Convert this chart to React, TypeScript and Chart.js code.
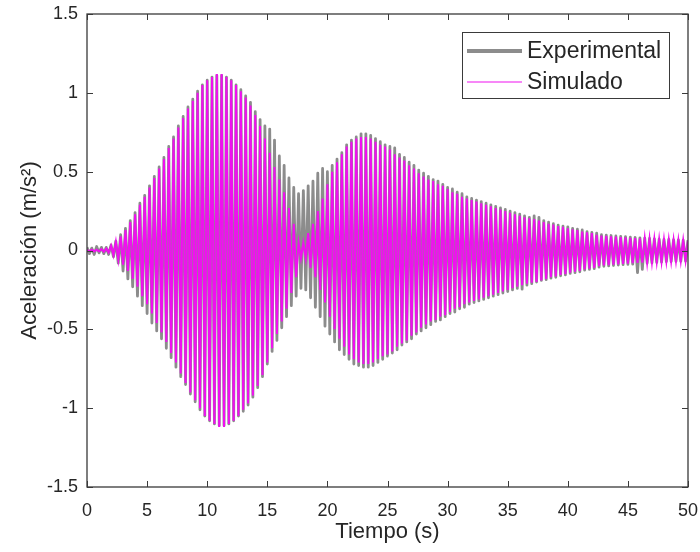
import React, { useEffect, useRef } from 'react';
import { Chart, registerables } from 'chart.js';

Chart.register(...registerables);

// ---------- data ----------
const seriesLabels = ['Experimental', 'Simulado'];
const xTickValues = [0, 5, 10, 15, 20, 25, 30, 35, 40, 45, 50];
const xTickLabels = ['0', '5', '10', '15', '20', '25', '30', '35', '40', '45', '50'];
const yTickValues = [-1.5, -1, -0.5, 0, 0.5, 1, 1.5];
const yTickLabels = ['-1.5', '-1', '-0.5', '0', '0.5', '1', '1.5'];
const xRange = [0, 50];
const yRange = [-1.5, 1.5];

// oscillation period (s) estimated from stripe spacing
const cyclePeriod = 0.4;

// simulated: peak amplitude of each cycle (symmetric)
const simAmp = [
  0.005, 0.005, 0.005, 0.008, 0.012, 0.03, 0.055, 0.09, 0.13, 0.18,
  0.23, 0.29, 0.34, 0.40, 0.46, 0.52, 0.58, 0.65, 0.71, 0.78,
  0.84, 0.90, 0.95, 1.00, 1.05, 1.08, 1.10, 1.12, 1.12, 1.10,
  1.08, 1.05, 1.01, 0.97, 0.92, 0.86, 0.79, 0.71, 0.62, 0.53,
  0.45, 0.37, 0.27, 0.17, 0.05, 0.05, 0.11, 0.17, 0.25, 0.33,
  0.42, 0.50, 0.56, 0.61, 0.66, 0.69, 0.71, 0.72, 0.72, 0.71,
  0.69, 0.67, 0.66, 0.64, 0.61, 0.59, 0.57, 0.54, 0.52, 0.49,
  0.47, 0.45, 0.44, 0.42, 0.41, 0.39, 0.37, 0.36, 0.34, 0.33,
  0.32, 0.31, 0.30, 0.29, 0.28, 0.27, 0.26, 0.25, 0.24, 0.23,
  0.22, 0.21, 0.205, 0.20, 0.19, 0.18, 0.17, 0.165, 0.155, 0.15,
  0.14, 0.135, 0.13, 0.12, 0.115, 0.11, 0.10, 0.095, 0.093, 0.09,
  0.088, 0.085, 0.083, 0.081, 0.079, 0.077, 0.075, 0.073, 0.071, 0.07,
  0.068, 0.067, 0.066, 0.065, 0.064, 0.063,
];

// experimental: positive peak of each cycle
const expUpper = [
  0.02, 0.015, 0.025, 0.02, 0.02, 0.035, 0.06, 0.10, 0.14, 0.19,
  0.24, 0.30, 0.35, 0.41, 0.47, 0.53, 0.59, 0.66, 0.72, 0.79,
  0.85, 0.91, 0.96, 1.01, 1.05, 1.08, 1.10, 1.11, 1.11, 1.10,
  1.08, 1.05, 1.02, 0.98, 0.94, 0.88, 0.83, 0.79, 0.77, 0.70,
  0.60, 0.54, 0.46, 0.40, 0.36, 0.38, 0.41, 0.44, 0.49, 0.52,
  0.50, 0.54, 0.58, 0.62, 0.67, 0.70, 0.72, 0.74, 0.74, 0.73,
  0.71, 0.69, 0.67, 0.66, 0.65, 0.61, 0.59, 0.56, 0.54, 0.51,
  0.49, 0.47, 0.45, 0.44, 0.42, 0.40, 0.39, 0.37, 0.36, 0.34,
  0.33, 0.32, 0.31, 0.30, 0.29, 0.28, 0.27, 0.26, 0.25, 0.24,
  0.23, 0.22, 0.21, 0.22, 0.21, 0.19, 0.18, 0.17, 0.16, 0.155,
  0.15, 0.14, 0.135, 0.13, 0.12, 0.115, 0.11, 0.10, 0.098, 0.095,
  0.092, 0.09, 0.088, 0.085, 0.083, 0.08, 0.078, 0.076, 0.074, 0.072,
  0.07, 0.07, 0.068, 0.067, 0.066, 0.065,
];

// experimental: negative peak of each cycle
const expLower = [
  -0.02, -0.025, -0.015, -0.02, -0.025, -0.04, -0.08, -0.13, -0.18, -0.23,
  -0.29, -0.35, -0.40, -0.46, -0.51, -0.56, -0.62, -0.68, -0.74, -0.80,
  -0.85, -0.91, -0.96, -1.01, -1.05, -1.08, -1.10, -1.11, -1.11, -1.10,
  -1.08, -1.05, -1.02, -0.98, -0.93, -0.87, -0.80, -0.72, -0.64, -0.57,
  -0.49, -0.42, -0.35, -0.29, -0.24, -0.25, -0.30, -0.36, -0.42, -0.48,
  -0.53, -0.58, -0.63, -0.66, -0.69, -0.72, -0.73, -0.74, -0.74, -0.73,
  -0.71, -0.69, -0.67, -0.65, -0.63, -0.60, -0.58, -0.56, -0.53, -0.51,
  -0.49, -0.47, -0.45, -0.44, -0.42, -0.40, -0.39, -0.37, -0.36, -0.34,
  -0.33, -0.32, -0.31, -0.30, -0.29, -0.28, -0.27, -0.26, -0.25, -0.24,
  -0.245, -0.22, -0.21, -0.20, -0.19, -0.185, -0.175, -0.17, -0.16, -0.155,
  -0.145, -0.14, -0.135, -0.125, -0.12, -0.115, -0.105, -0.10, -0.098, -0.095,
  -0.092, -0.09, -0.088, -0.086, -0.14, -0.12, -0.08, -0.078, -0.075, -0.073,
  -0.071, -0.07, -0.069, -0.068, -0.067, -0.066,
];

// ---------- styles ----------
const FONT = '"Liberation Sans", Arial, Helvetica, sans-serif';
const AXIS_COLOR = '#3a3a3a';
const TEXT_COLOR = '#262626';
const EXP_COLOR = '#8c8c8c';
const SIM_COLOR = '#f010f0';

function zigzag(up: number[], lo: number[]) {
  const pts: { x: number; y: number }[] = [];
  up.forEach((u, i) => {
    const t = i * cyclePeriod;
    pts.push({ x: t, y: u });
    const tl = t + cyclePeriod / 2;
    if (tl <= xRange[1]) pts.push({ x: tl, y: lo[i] });
  });
  return pts;
}

const framePlugin = {
  id: 'matlabFrame',
  afterDatasetsDraw(chart: any) {
    const { ctx, chartArea, scales } = chart;
    const { left, right, top, bottom } = chartArea;
    ctx.save();
    ctx.strokeStyle = AXIS_COLOR;
    ctx.lineWidth = 1.3;
    ctx.strokeRect(left, top, right - left, bottom - top);
    const tl = 6;
    ctx.lineWidth = 1;
    ctx.beginPath();
    xTickValues.forEach((v) => {
      const px = Math.round(scales.x.getPixelForValue(v)) + 0.5;
      ctx.moveTo(px, bottom);
      ctx.lineTo(px, bottom - tl);
      ctx.moveTo(px, top);
      ctx.lineTo(px, top + tl);
    });
    yTickValues.forEach((v) => {
      const py = Math.round(scales.y.getPixelForValue(v)) + 0.5;
      ctx.moveTo(left, py);
      ctx.lineTo(left + tl, py);
      ctx.moveTo(right, py);
      ctx.lineTo(right - tl, py);
    });
    ctx.stroke();
    ctx.restore();
  },
  afterDraw(chart: any) {
    const { ctx } = chart;
    const bx = 462, by = 32, bw = 207, bh = 66;
    ctx.save();
    ctx.fillStyle = '#ffffff';
    ctx.fillRect(bx, by, bw, bh);
    ctx.strokeStyle = AXIS_COLOR;
    ctx.lineWidth = 1;
    ctx.strokeRect(bx + 0.5, by + 0.5, bw, bh);
    ctx.font = `23px ${FONT}`;
    ctx.textBaseline = 'middle';
    ctx.fillStyle = TEXT_COLOR;
    const rows = [51, 82];
    seriesLabels.forEach((lab, i) => {
      const ds = chart.data.datasets.find((d: any) => d.label === lab);
      const y = rows[i];
      ctx.strokeStyle = ds.borderColor;
      ctx.lineWidth = i === 0 ? 4 : 1.2;
      ctx.beginPath();
      ctx.moveTo(467, y);
      ctx.lineTo(522, y);
      ctx.stroke();
      ctx.fillText(lab, 527, y + 1);
    });
    ctx.restore();
  },
};

export default function App() {
  const ref = useRef<HTMLCanvasElement | null>(null);
  useEffect(() => {
    if (!ref.current) return;
    const chart = new Chart(ref.current, {
      type: 'line',
      data: {
        datasets: [
          {
            label: seriesLabels[0],
            data: zigzag(expUpper, expLower),
            borderColor: EXP_COLOR,
            borderWidth: 2.8,
            borderJoinStyle: 'round',
            pointRadius: 0,
            tension: 0,
            order: 2,
          },
          {
            label: seriesLabels[1],
            data: zigzag(simAmp, simAmp.map((a) => -a)),
            borderColor: SIM_COLOR,
            borderWidth: 2,
            pointRadius: 0,
            tension: 0,
            order: 1,
          },
        ],
      },
      options: {
        responsive: false,
        animation: false,
        events: [],
        layout: { padding: { left: 0, right: 12, top: 14, bottom: 0 } },
        plugins: { legend: { display: false }, tooltip: { enabled: false } },
        scales: {
          x: {
            type: 'linear',
            min: xRange[0],
            max: xRange[1],
            grid: { display: false, drawTicks: false },
            border: { display: false },
            afterBuildTicks: (s: any) => {
              s.ticks = xTickValues.map((v) => ({ value: v }));
            },
            afterFit: (s: any) => {
              s.height = 65;
              s.paddingLeft = 0;
              s.paddingRight = 0;
            },
            ticks: {
              padding: 13,
              maxRotation: 0,
              autoSkip: false,
              color: TEXT_COLOR,
              font: { family: FONT, size: 18 },
              callback: (v: any) => xTickLabels[xTickValues.indexOf(Number(v))] ?? '',
            },
            title: {
              display: true,
              text: 'Tiempo (s)',
              color: TEXT_COLOR,
              font: { family: FONT, size: 22 },
              padding: { top: 0, bottom: 7 },
            },
          },
          y: {
            type: 'linear',
            min: yRange[0],
            max: yRange[1],
            grid: { display: false, drawTicks: false },
            border: { display: false },
            afterBuildTicks: (s: any) => {
              s.ticks = yTickValues.map((v) => ({ value: v }));
            },
            afterFit: (s: any) => {
              s.width = 87;
              s.paddingTop = 0;
              s.paddingBottom = 0;
            },
            ticks: {
              padding: 9,
              autoSkip: false,
              color: TEXT_COLOR,
              font: { family: FONT, size: 18 },
              callback: (v: any) => yTickLabels[yTickValues.indexOf(Number(v))] ?? '',
            },
            title: {
              display: true,
              text: 'Aceleración (m/s²)',
              color: TEXT_COLOR,
              font: { family: FONT, size: 22 },
              padding: { top: 17, bottom: 0 },
            },
          },
        },
      },
      plugins: [framePlugin],
    } as any);
    return () => chart.destroy();
  }, []);
  return (
    <div style={{ position: 'fixed', left: 0, top: 0, width: 700, height: 552, background: '#fff' }}>
      <canvas ref={ref} width={700} height={552} style={{ width: 700, height: 552, display: 'block' }} />
    </div>
  );
}
